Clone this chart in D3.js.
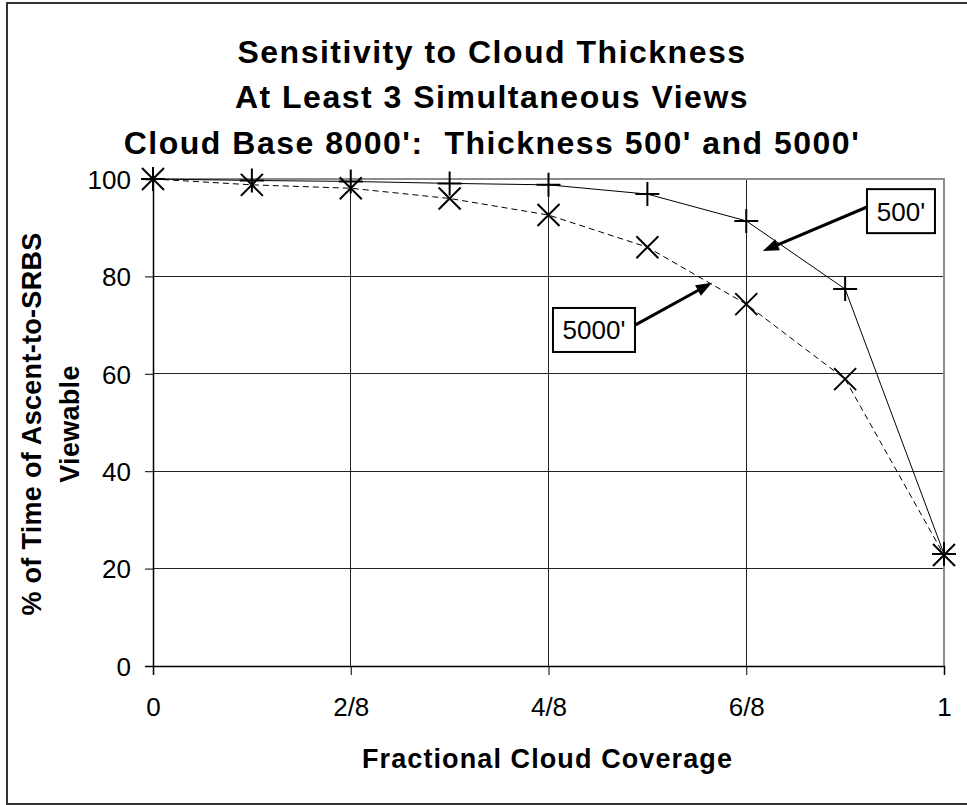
<!DOCTYPE html>
<html>
<head>
<meta charset="utf-8">
<script src="https://cdn.jsdelivr.net/npm/d3@7"></script>
<style>
  body { margin: 0; background: #fff; }
  svg { display: block; font-family: "Liberation Sans", Arial, sans-serif; }
  .grid line { stroke: #222; stroke-width: 1; shape-rendering: crispEdges; }
  .tick text { font-size: 26px; fill: #000; }
  .title { white-space: pre; }
</style>
</head>
<body>
<svg id="chart" width="967" height="805"></svg>
<script>
// fraction of sky covered, in eighths
const coverage = [0, 0.125, 0.25, 0.375, 0.5, 0.625, 0.75, 0.875, 1];
const thick500 = [100, 99.7, 99.5, 99.1, 98.8, 96.9, 91.4, 77.4, 23];
const thick5000 = [100, 98.8, 98.1, 96.0, 92.6, 86.0, 74.3, 58.9, 22.8];
const xTicks = [0, 0.25, 0.5, 0.75, 1];
const xTickLabels = ['0', '2/8', '4/8', '6/8', '1'];
const yTicks = [0, 20, 40, 60, 80, 100];
const titleLines = [
    'Sensitivity to Cloud Thickness',
    'At Least 3 Simultaneous Views',
    "Cloud Base 8000':  Thickness 500' and 5000'"
];
// callouts: box centre, arrow tail and arrow tip, in data units
const callouts = [
    {label: "500'", bx: 0.9456, by: 93.4, tx: 0.9027, ty: 94.25, hx: 0.771, hy: 85.2, w: 68},
    {label: "5000'", bx: 0.5575, by: 69.0, tx: 0.6094, ty: 70.0, hx: 0.7067, hy: 78.7, w: 82}
];

const margin = {top: 179, right: 23, bottom: 139, left: 153};
const svg = d3.select('#chart');
const W = +svg.attr('width'), H = +svg.attr('height');
const width = W - margin.left - margin.right;
const height = H - margin.top - margin.bottom;

const x = d3.scaleLinear().domain([0, 1]).range([0, width]);
const y = d3.scaleLinear().domain([0, 100]).range([height, 0]);

// chart area border (runs off the right edge like the original)
svg.append('rect')
    .attr('x', 7).attr('y', 3)
    .attr('width', 970).attr('height', 801)
    .attr('fill', 'none')
    .attr('stroke', '#333')
    .attr('stroke-width', 2);

svg.append('g')
    .selectAll('text')
    .data(titleLines)
    .enter().append('text')
        .attr('class', 'title')
        .attr('x', 492)
        .attr('y', (d, i) => 62.5 + i * 45.5)
        .attr('text-anchor', 'middle')
        .attr('font-size', 32)
        .attr('font-weight', 'bold')
        .attr('letter-spacing', 1.5)
        .text(d => d);

const g = svg.append('g')
    .attr('transform', `translate(${margin.left},${margin.top})`);

// gridlines
g.append('g')
    .attr('class', 'grid')
    .selectAll('line')
    .data(yTicks.filter(d => d > 0 && d < 100))
    .enter().append('line')
        .attr('x1', 0).attr('x2', width)
        .attr('y1', d => y(d)).attr('y2', d => y(d));

g.append('g')
    .attr('class', 'grid')
    .selectAll('line')
    .data(xTicks.filter(d => d > 0 && d < 1))
    .enter().append('line')
        .attr('y1', 0).attr('y2', height)
        .attr('x1', d => x(d)).attr('x2', d => x(d));

// plot area frame, grey on top/right
g.append('path')
    .attr('d', `M0,0H${width}V${height}`)
    .attr('fill', 'none')
    .attr('stroke', '#8c8c8c')
    .attr('stroke-width', 2);

const yAxis = g.append('g')
    .call(d3.axisLeft(y).tickValues(yTicks).tickSize(8).tickPadding(14));
const xAxis = g.append('g')
    .attr('transform', `translate(0,${height})`)
    .call(d3.axisBottom(x).tickValues(xTicks).tickSize(9).tickPadding(14)
        .tickFormat((d, i) => xTickLabels[i]));
[yAxis, xAxis].forEach(a => {
    a.select('.domain').attr('stroke', '#000').attr('stroke-width', 1.5);
    a.selectAll('.tick line').attr('stroke', '#000');
});
yAxis.selectAll('.tick text').attr('dy', '0.36em');
xAxis.selectAll('.tick text').attr('dy', '1.05em');

const line = d3.line()
    .x((d, i) => x(coverage[i]))
    .y(d => y(d));

g.append('path')
    .datum(thick500)
    .attr('d', line)
    .attr('fill', 'none')
    .attr('stroke', '#000')
    .attr('stroke-width', 1);

g.append('path')
    .datum(thick5000)
    .attr('d', line)
    .attr('fill', 'none')
    .attr('stroke', '#000')
    .attr('stroke-width', 1)
    .attr('stroke-dasharray', '6,4');

// plus markers
g.append('g')
    .selectAll('path')
    .data(thick500)
    .enter().append('path')
        .attr('transform', (d, i) => `translate(${x(coverage[i])},${y(d)})`)
        .attr('d', 'M-12,0H12M0,-12V12')
        .attr('stroke', '#000')
        .attr('stroke-width', 2);

// cross markers
g.append('g')
    .selectAll('path')
    .data(thick5000)
    .enter().append('path')
        .attr('transform', (d, i) => `translate(${x(coverage[i])},${y(d)})`)
        .attr('d', 'M-11,-11L11,11M-11,11L11,-11')
        .attr('stroke', '#000')
        .attr('stroke-width', 2);

const co = g.append('g')
    .selectAll('g')
    .data(callouts)
    .enter().append('g');

// arrow shaft stops short of the tip, head drawn as a filled triangle
co.each(function(d){
    var grp = d3.select(this);
    var x1 = x(d.tx), y1 = y(d.ty), x2 = x(d.hx), y2 = y(d.hy);
    var ang = Math.atan2(y2 - y1, x2 - x1);
    var len = 16, half = 6;
    var bx = x2 - len * Math.cos(ang), by = y2 - len * Math.sin(ang);
    grp.append('line')
        .attr('x1', x1).attr('y1', y1)
        .attr('x2', bx + 2 * Math.cos(ang)).attr('y2', by + 2 * Math.sin(ang))
        .attr('stroke', '#000')
        .attr('stroke-width', 3);
    grp.append('path')
        .attr('d', `M${x2},${y2}L${bx - half * Math.sin(ang)},${by + half * Math.cos(ang)}L${bx + half * Math.sin(ang)},${by - half * Math.cos(ang)}Z`)
        .attr('fill', '#000');
});

co.append('rect')
    .attr('x', d => x(d.bx) - d.w / 2)
    .attr('y', d => y(d.by) - 22)
    .attr('width', d => d.w)
    .attr('height', 44)
    .attr('fill', '#fff')
    .attr('stroke', '#000')
    .attr('stroke-width', 2);

co.append('text')
    .attr('x', d => x(d.bx))
    .attr('y', d => y(d.by))
    .attr('dy', '0.36em')
    .attr('text-anchor', 'middle')
    .attr('font-size', 26)
    .text(d => d.label);

// axis titles
svg.append('text')
    .attr('x', margin.left + width / 2 - 1)
    .attr('y', 767.5)
    .attr('text-anchor', 'middle')
    .attr('font-size', 27)
    .attr('font-weight', 'bold')
    .attr('letter-spacing', 1.1)
    .text('Fractional Cloud Coverage');

const yTitle = svg.append('text')
    .attr('transform', 'translate(41,424) rotate(-90)')
    .attr('text-anchor', 'middle')
    .attr('font-size', 27)
    .attr('font-weight', 'bold')
    .attr('letter-spacing', 0.3);
yTitle.append('tspan').attr('x', 0).attr('y', 0).text('% of Time of Ascent-to-SRBS');
yTitle.append('tspan').attr('x', 0).attr('y', 38).text('Viewable');
</script>
</body>
</html>
